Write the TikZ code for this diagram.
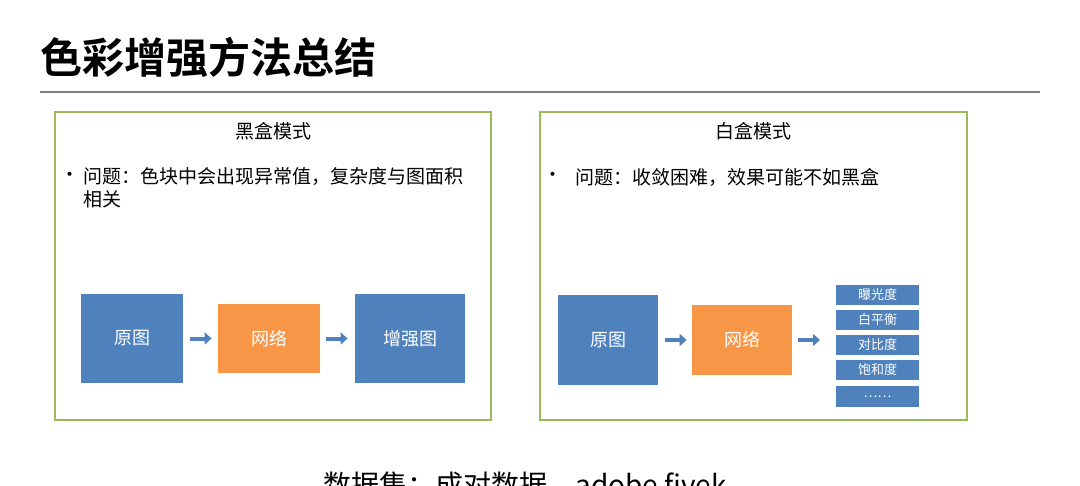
\documentclass[tikz,border=0pt]{standalone}
\usepackage{fontspec}
\setmainfont{Noto Sans CJK SC}
\newfontfamily\cjkb{Noto Sans CJK SC Bold}
\usetikzlibrary{arrows.meta}
\definecolor{bl}{HTML}{4F81BD}
\definecolor{orn}{HTML}{F79646}
\definecolor{grn}{HTML}{9BBB59}
\begin{document}
\begin{tikzpicture}[x=0.5pt,y=-0.5pt,
  frame/.style={draw=grn,line width=1.2pt},
  bbox/.style={fill=bl,text=white,font=\fontsize{9}{10}\selectfont,inner sep=0},
  obox/.style={fill=orn,text=white,font=\fontsize{9}{10}\selectfont,inner sep=0},
  sbox/.style={fill=bl,text=white,font=\fontsize{6.5}{7}\selectfont,minimum width=41.5pt,minimum height=10pt,inner sep=0},
  arr/.style={draw=bl,line width=2pt,-{Triangle[length=3.5pt,width=6pt]}},
  txt/.style={font=\fontsize{9.5}{11.5}\selectfont,inner sep=0}]
\useasboundingbox[fill=white] (0,0) rectangle (1080,486);
\begin{scope}
\clip (0,0) rectangle (1080,486);
\node[anchor=north,inner sep=0,font=\fontsize{14}{16}\selectfont] (ds) at (525,471) {数据集：成对数据，adobe fivek};
\end{scope}
\node[anchor=west,inner sep=0,font=\cjkb\fontsize{21}{23}\selectfont] (title) at (40,57) {色彩增强方法总结};
\coordinate (l1) at (40,92); \coordinate (l2) at (1040,92);
\draw[gray,line width=0.8pt] (l1) -- (l2);
\node[frame,minimum width=218pt,minimum height=154pt,inner sep=0] (lb) at (273,266) {};
\node[frame,minimum width=213.5pt,minimum height=154pt,inner sep=0] (rb) at (753.5,266) {};
\node[txt] (lt) at (273,131) {黑盒模式};
\node[txt] (rt) at (753.5,131) {白盒模式};
\node[txt] (lbul) at (70,177) {•};
\node[txt,anchor=north west,align=left] (lq) at (83,167) {问题：色块中会出现异常值，复杂度与图面积\\相关};
\node[txt] (rbul) at (553,177) {•};
\node[txt,anchor=west] (rq) at (575,177) {问题：收敛困难，效果可能不如黑盒};
\node[bbox,minimum width=51pt,minimum height=44.5pt] (a1) at (132,338.5) {原图};
\node[obox,minimum width=51pt,minimum height=34.5pt] (a2) at (269,338.5) {网络};
\node[bbox,minimum width=55pt,minimum height=44.5pt] (a3) at (410,338.5) {增强图};
\draw[arr] ([xshift=3.5pt]a1.east) -- ([xshift=-3pt]a2.west);
\draw[arr] ([xshift=3pt]a2.east) -- ([xshift=-3.5pt]a3.west);
\node[bbox,minimum width=50pt,minimum height=45pt] (b1) at (608,340) {原图};
\node[obox,minimum width=50pt,minimum height=35pt] (b2) at (742,340) {网络};
\draw[arr] ([xshift=3.5pt]b1.east) -- ([xshift=-2.5pt]b2.west);
\draw[arr] ([xshift=3pt]b2.east) -- (820,340) coordinate (e2);
\node[sbox] (s1) at (877.5,295) {曝光度};
\node[sbox] (s2) at (877.5,320) {白平衡};
\node[sbox] (s3) at (877.5,345) {对比度};
\node[sbox] (s4) at (877.5,370) {饱和度};
\node[sbox,minimum height=10.5pt] (s5) at (877.5,396.5) {……};
\end{tikzpicture}
\end{document}
